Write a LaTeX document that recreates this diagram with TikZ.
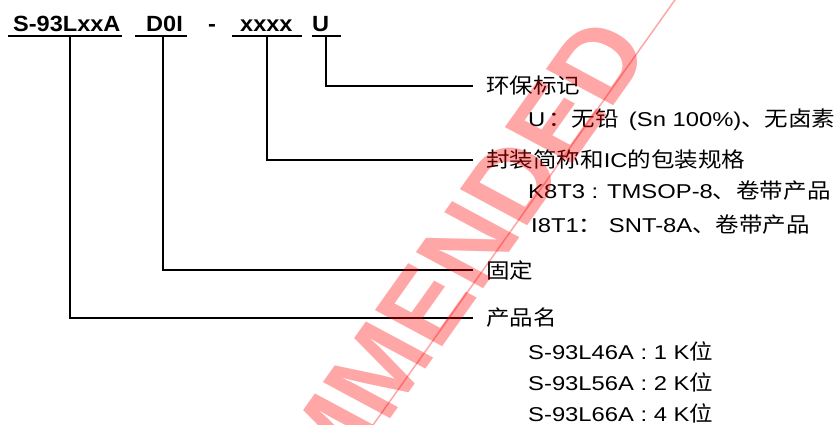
\documentclass[tikz,border=0pt]{standalone}
\usepackage{fontspec}
\usepackage{xcolor}
\usetikzlibrary{calc}
\setmainfont{Liberation Sans}
\newfontfamily\bodyfont{Liberation Sans}[FakeStretch=1.19]
\newfontfamily\partfont{Liberation Sans}[FakeStretch=1.07]
\newfontfamily\markfont{Liberation Sans}[FakeStretch=1.02]
\newfontfamily\cjkfont{Noto Sans CJK SC}[FakeStretch=1.12]
\newcommand{\zhtext}[1]{{\cjkfont\fontsize{21}{24}\selectfont #1}}

\begin{document}
\begin{tikzpicture}[x=1pt, y=-1pt,
  partcode/.style={inner sep=0pt, anchor=base west, font=\partfont\bfseries\fontsize{22}{26}\selectfont},
  heading/.style={inner sep=0pt, anchor=west, font=\bodyfont\fontsize{20}{24}\selectfont},
  detail/.style={inner sep=0pt, anchor=base west, font=\bodyfont\fontsize{20}{24}\selectfont},
  uline/.style={line width=2pt},
  leader/.style={line width=1.6pt},
  wmark/.style={inner sep=0pt, text=red, text opacity=0.35, font=\markfont\bfseries\fontsize{100}{104}\selectfont},
  wline/.style={draw=red, draw opacity=0.35, line width=1.5pt}]
  \useasboundingbox (0,0) rectangle (840,425);
  % part number
  \node[partcode] (pName) at (13,32) {S-93LxxA};
  \node[partcode] (pFix) at (146,32) {D0I};
  \node[partcode] (pDash) at (208,32) {-};
  \node[partcode] (pPkg) at (240,32) {xxxx};
  \node[partcode] (pEco) at (312,32) {U};
  \foreach \a/\b in {8/122, 135/187, 232/302, 312/341}
    \draw[uline] (\a,36) -- (\b,36);
  \coordinate (cName) at (70,36);
  \coordinate (cFix) at (163,36);
  \coordinate (cPkg) at (267,36);
  \coordinate (cEco) at (326,36);
  % headings
  \node[heading] (hEco) at (486,86) {\zhtext{环保标记}};
  \node[heading] (hPkg) at (486,160) {\zhtext{封装简称和}IC\zhtext{的包装规格}};
  \node[heading] (hFix) at (486,270) {\zhtext{固定}};
  \node[heading] (hName) at (486,318) {\zhtext{产品名}};
  % leader lines
  \draw[leader] (cEco) |- ([xshift=-13pt]hEco.west);
  \draw[leader] (cPkg) |- ([xshift=-13pt]hPkg.west);
  \draw[leader] (cFix) |- ([xshift=-13pt]hFix.west);
  \draw[leader] (cName) |- ([xshift=-13pt]hName.west);
  % details
  \node[detail] (dEco) at (528,127) {U\hspace{3pt}\zhtext{：无铅}\hspace{10pt}(Sn 100\%)\zhtext{、无卤素}};
  \node[detail] (dPkgA) at (528,198) {K8T3 : TMSOP-8\zhtext{、卷带产品}};
  \node[detail] (dPkgB) at (531,232) {I8T1\zhtext{：} SNT-8A\zhtext{、卷带产品}};
  \foreach \i/\n/\k in {0/4/1, 1/5/2, 2/6/4}
    \node[detail] (dName\i) at (528,{359+31*\i}) {S-93L\n6A : \k{} K\zhtext{位}};
  % watermark
  \begin{scope}
    \clip (0,0) rectangle (840,425);
    \begin{scope}[xscale=1.15]
      \node[wmark, transform shape, rotate=58.3, anchor=base east] (wm) at (568.7,48.4) {NOT RECOMMENDED};
    \end{scope}
    \draw[wline, shorten >=-60pt] ($(wm.base west)!-11pt!-90:(wm.base east)$) -- ($(wm.base east)!-11pt!90:(wm.base west)$);
  \end{scope}
\end{tikzpicture}
\end{document}
